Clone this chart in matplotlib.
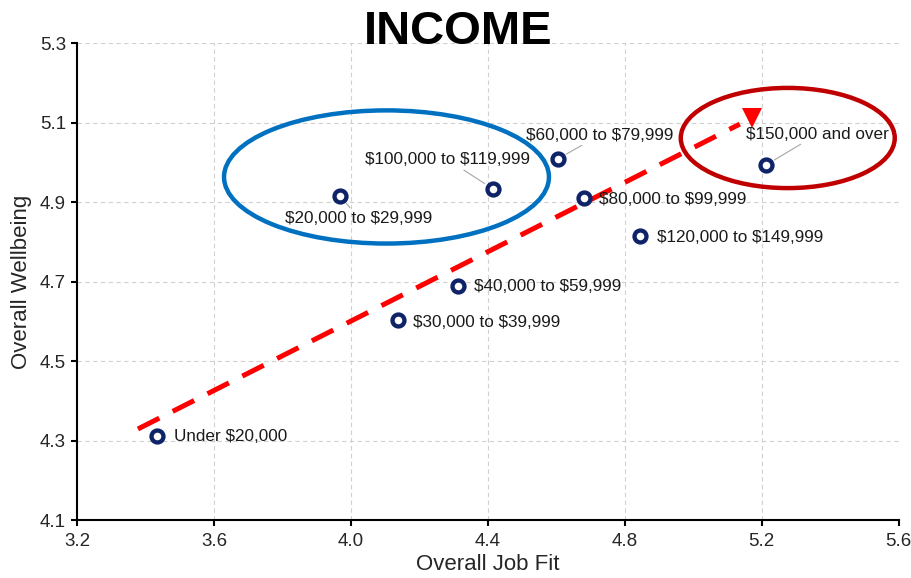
import matplotlib

matplotlib.use("Agg")
import matplotlib.pyplot as plt
from matplotlib.patches import Ellipse

# income groups and their averages
groups = [
    "Under $20,000",
    "$20,000 to $29,999",
    "$30,000 to $39,999",
    "$40,000 to $59,999",
    "$60,000 to $79,999",
    "$80,000 to $99,999",
    "$100,000 to $119,999",
    "$120,000 to $149,999",
    "$150,000 and over",
]
job_fit = [3.434, 3.968, 4.137, 4.312, 4.604, 4.680, 4.415, 4.844, 5.212]
wellbeing = [4.311, 4.915, 4.603, 4.689, 5.008, 4.910, 4.933, 4.814, 4.993]

x_ticks = [3.2, 3.6, 4.0, 4.4, 4.8, 5.2, 5.6]
y_ticks = [4.1, 4.3, 4.5, 4.7, 4.9, 5.1, 5.3]

# trend arrow (dashed shaft and head) and highlight ellipses (cx, cy, width, height)
trend_x = [3.378, 5.136]
trend_y = [4.329, 5.096]
tip_x = [5.171]
tip_y = [5.111]
blue_ellipse = (4.104, 4.963, 0.949, 0.335)
red_ellipse = (5.276, 5.061, 0.625, 0.252)

# label placement: offset in pixels, alignment, leader line
label_style = {
    "Under $20,000": ((17, 0), "left", False),
    "$20,000 to $29,999": ((19, -22), "center", True),
    "$30,000 to $39,999": ((15, -2), "left", False),
    "$40,000 to $59,999": ((16, -1), "left", False),
    "$60,000 to $79,999": ((42, 24), "center", True),
    "$80,000 to $99,999": ((15, -1), "left", False),
    "$100,000 to $119,999": ((-45, 29), "center", True),
    "$120,000 to $149,999": ((17, -1), "left", False),
    "$150,000 and over": ((52, 31), "center", True),
}

plt.rcParams["font.family"] = ["Liberation Sans", "DejaVu Sans"]
plt.rcParams["text.parse_math"] = False

fig = plt.figure(figsize=(9.12, 5.78), dpi=100)
ax = fig.add_axes([0.0844, 0.1003, 0.9010, 0.8253])

ax.set_xlim(3.2, 5.6)
ax.set_ylim(4.1, 5.3)
ax.set_xticks(x_ticks)
ax.set_yticks(y_ticks)
ax.set_xticklabels([f"{v:.1f}" for v in x_ticks])
ax.set_yticklabels([f"{v:.1f}" for v in y_ticks])
ax.grid(True, linestyle=(0, (4, 3)), color="#d0d0d0", linewidth=0.8)
ax.set_axisbelow(True)
for side in ("top", "right"):
    ax.spines[side].set_visible(False)
for side in ("left", "bottom"):
    ax.spines[side].set_linewidth(1.5)
ax.tick_params(direction="out", length=4, width=1.5, labelsize=13.5, colors="black", pad=5)
ax.tick_params(axis="y", pad=4)
for lab in ax.get_xticklabels() + ax.get_yticklabels():
    lab.set_color("#262626")

ax.set_xlabel("Overall Job Fit", fontsize=16, color="#262626")
ax.set_ylabel("Overall Wellbeing", fontsize=16, color="#262626")
ax.xaxis.set_label_coords(0.5, -0.071)
ax.yaxis.set_label_coords(-0.055, 0.5)

# trend arrow
ax.plot(trend_x, trend_y, color="#ff0000", linewidth=3.6,
        linestyle=(0, (4.8, 3.0)), dash_capstyle="butt", zorder=3)
ax.plot(tip_x, tip_y, marker="v", markersize=15, color="#ff0000",
        markeredgewidth=0, linestyle="none", zorder=3)

# highlight ellipses
for (cx, cy, w, h), col in ((blue_ellipse, "#0070c0"), (red_ellipse, "#c00000")):
    ax.add_patch(Ellipse((cx, cy), w, h, fill=False, edgecolor=col,
                         linewidth=3.2, zorder=4, clip_on=False))

ax.plot(job_fit, wellbeing, linestyle="none", marker="o", markersize=8.6,
        markerfacecolor="white", markeredgecolor="#0f2468", markeredgewidth=3.1,
        zorder=5)

for name, xv, yv in zip(groups, job_fit, wellbeing):
    offset, ha, leader = label_style[name]
    arrow = dict(arrowstyle="-", color="#a6a6a6", linewidth=0.8,
                 shrinkA=0, shrinkB=7) if leader else None
    ax.annotate(name, (xv, yv), xytext=offset, textcoords="offset pixels",
                ha=ha, va="center", fontsize=12.3, color="#1a1a1a",
                arrowprops=arrow, zorder=6)

fig.text(0.502, 0.945, "INCOME", ha="center", va="center",
         fontsize=34, fontweight="bold", color="black")

fig.savefig("out.png", dpi=100)
